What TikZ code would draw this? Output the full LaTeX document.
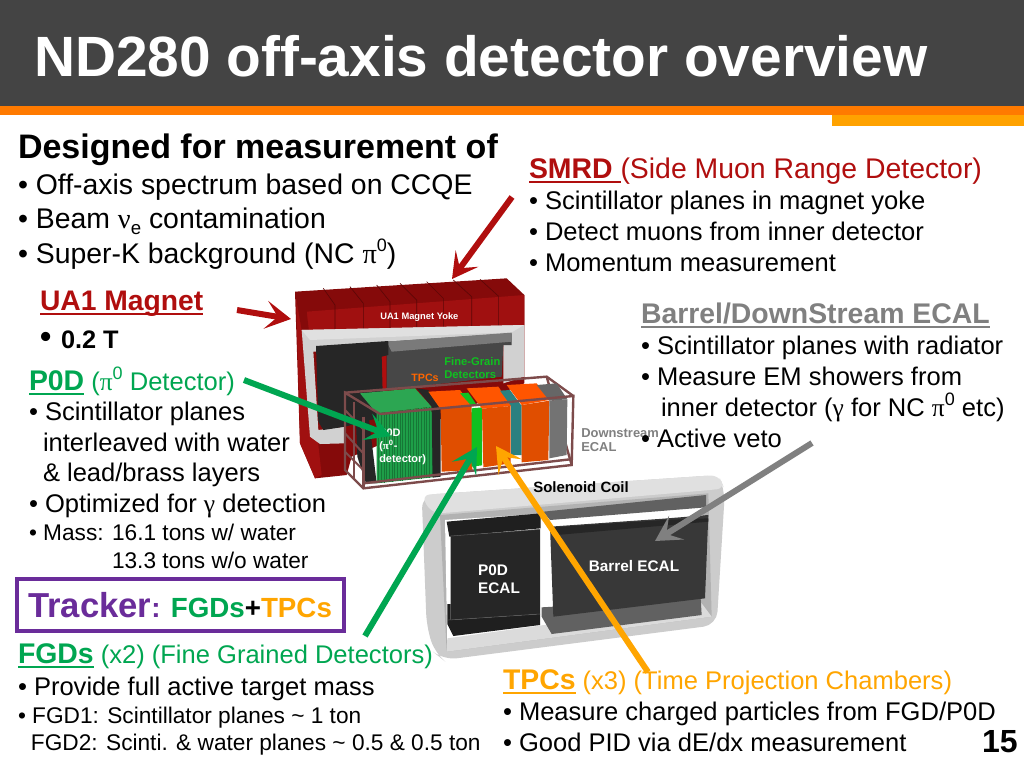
\documentclass[tikz,border=0pt]{standalone}
\usepackage{fontspec}
\usetikzlibrary{arrows.meta}
\setmainfont{Liberation Sans}
\newfontfamily\grk{Liberation Serif}
\newsavebox{\ulbox}
\newcommand{\uln}[1]{\sbox{\ulbox}{#1}\rlap{\rule[-0.17em]{\wd\ulbox}{0.07em}}\usebox{\ulbox}}
\newcommand{\gr}[1]{{\grk #1}}
\newcommand{\sbe}[1]{\raisebox{-0.22em}{\fontsize{14}{14}\selectfont #1}}
\newcommand{\spz}[1]{\raisebox{0.42em}{\fontsize{13.5}{14}\selectfont #1}}
\newcommand{\bld}[1]{{\bfseries\fontsize{21.3}{24}\selectfont\uln{#1}}}
\definecolor{hdr}{HTML}{444444}
\definecolor{hora}{HTML}{FF7A00}
\definecolor{hamb}{HTML}{FFA200}
\definecolor{ured}{HTML}{B00E0E}
\definecolor{sgreen}{HTML}{00A651}
\definecolor{sora}{HTML}{FFA500}
\definecolor{sgray}{HTML}{808080}
\definecolor{spur}{HTML}{6A2C9A}
\definecolor{yk}{HTML}{A01010}
\definecolor{ykd}{HTML}{850A0A}
\definecolor{bask}{HTML}{7D4B4B}
\definecolor{tpctop}{HTML}{FF5500}
\definecolor{tpcfront}{HTML}{E04E00}
\definecolor{p0dtop}{HTML}{2CA652}
\definecolor{p0dfront}{HTML}{1E9E48}
\definecolor{fgdgreen}{HTML}{10C020}
\definecolor{fgdteal}{HTML}{2A8080}
\tikzset{
 txt/.style={anchor=base west,inner sep=0pt,outer sep=0pt},
 big/.style={font=\fontsize{21.3}{24}\selectfont},
 mid/.style={font=\fontsize{19.15}{22}\selectfont},
 sml/.style={font=\fontsize{17}{20}\selectfont},
 arr/.style={line width=4.5pt,-{Stealth[length=19pt,width=21pt,inset=9pt]}},
 imglbl/.style={anchor=center,inner sep=0pt,align=left,font=\bfseries\fontsize{8.4}{9.8}\selectfont},
}
\begin{document}
\begin{tikzpicture}[x=0.75pt,y=-0.75pt]
\useasboundingbox (0,0) rectangle (1024,768);
\fill[white] (0,0) rectangle (1024,768);
% header
\fill[hdr] (0,0) rectangle (1024,106);
\fill[hora] (0,106) rectangle (1024,115);
\fill[hamb] (832,115) rectangle (1024,126);
\node[txt,text=white,font=\bfseries\fontsize{42.6}{46}\selectfont] (title) at (34,76) {ND280 off-axis detector overview};
% ---- magnet (zoom 1 coordinates)
\begin{scope}[shift={(280,270)},x=0.25pt,y=-0.25pt]
\fill[ykd] (45,65)--(680,25)--(733,75)--(733,340)--(215,560)--(200,615)--(105,625)--(60,520)--cycle;
\fill[yk] (80,125)--(733,75)--(733,165)--(85,205)--cycle;
\fill[yk] (75,130)--(90,210)--(110,480)--(125,615)--(105,625)--(60,520)--(48,70)--cycle;
\fill[ykd] (45,65)--(80,125)--(90,210)--(65,180)--cycle;
\foreach \a/\b/\c in {130/55/165,210/50/250,290/45/330,360/40/410,440/35/490,520/30/575,600/28/655}
  \draw[black!30!ykd,line width=0.5pt] (\a,\b)--(\c,{\b+50})--(\c,{\b+140});
\fill[white!82!black] (65,180)--(732,165)--(732,320)--(670,340)--(670,225)--(100,245)--(115,480)--(195,470)--(195,520)--(120,522)--(90,500)--cycle;
\fill[white!88!black] (65,180)--(732,165)--(695,187)--(90,210)--cycle;
\fill[black!72] (320,215)--(695,190)--(695,225)--(670,225)--(665,320)--(320,360)--cycle;
\fill[black!52] (320,215)--(695,188)--(695,215)--(335,245)--cycle;
\fill[ured] (305,255)--(318,255)--(318,360)--(305,375)--cycle;
\fill[black!85] (108,228)--(325,213)--(325,255)--(305,260)--(310,440)--(195,470)--(130,480)--(115,455)--cycle;
\node[font=\bfseries\fontsize{7}{9}\selectfont,text=white,inner sep=0pt] (yokelbl) at (418,142) {UA1 Magnet Yoke};
\node[font=\bfseries\fontsize{8}{9}\selectfont,text=orange!80!red,inner sep=0pt] (tpclbl) at (435,324) {TPCs};
\node[imglbl,text=fgdgreen] (fgdlbl) at (577,295) {Fine-Grain\\Detectors};
% basket rear
\draw[bask,line width=1.8pt] (195,368)--(800,320)--(880,378);
\draw[bask,line width=1.8pt] (800,320)--(875,585);
% contents
\fill[black!85] (225,378)--(265,430)--(290,640)--(258,640)--(232,560)--cycle;
\fill[p0dtop] (240,370)--(405,355)--(455,410)--(290,430)--cycle;
\fill[p0dfront] (290,430)--(455,410)--(458,622)--(290,640)--cycle;
\foreach \x in {296,304,...,456}
  \draw[p0dfront!75!black,line width=0.3pt] (\x,{430-(\x-290)*20/165})--(\x,{640-(\x-290)*18/168});
\fill[black!85] (410,355)--(445,360)--(482,410)--(482,620)--(458,623)--(455,410)--cycle;
\fill[tpctop] (445,365)--(540,360)--(575,405)--(480,415)--cycle;
\fill[tpcfront] (482,415)--(575,405)--(577,600)--(485,605)--cycle;
\fill[fgdgreen] (540,370)--(565,368)--(590,405)--(575,408)--cycle;
\fill[fgdgreen] (575,415)--(606,412)--(606,586)--(575,590)--cycle;
\fill[tpctop] (560,355)--(655,350)--(695,408)--(606,416)--cycle;
\fill[tpcfront] (606,416)--(692,408)--(692,580)--(610,592)--cycle;
\fill[fgdteal] (660,362)--(690,360)--(725,408)--(695,410)--cycle;
\fill[fgdteal] (693,408)--(725,405)--(725,555)--(693,555)--cycle;
\fill[tpctop] (680,345)--(770,340)--(808,390)--(725,405)--cycle;
\fill[tpcfront] (725,405)--(808,392)--(805,570)--(725,577)--cycle;
\fill[black!60] (770,345)--(830,340)--(862,388)--(808,392)--cycle;
\fill[black!55] (808,392)--(862,388)--(860,555)--(808,565)--cycle;
\node[imglbl,text=white,font=\bfseries\fontsize{8.2}{9.7}\selectfont] (p0dlbl) at (368,530) {P0D\\(\gr{π}\textsuperscript{0}-\\detector)};
% basket front
\draw[bask,line width=1.8pt] (300,432)--(880,378)--(875,585)--(250,655)--(195,600)--(195,368)--(300,432);
\draw[bask,line width=1.8pt] (250,440)--(250,655);
\draw[bask,line width=1.5pt] (195,420)--(250,478) (195,490)--(250,550) (195,545)--(250,600);
\draw[bask,line width=1.5pt] (222,395)--(222,625);
\draw[bask,line width=1.8pt] (250,640)--(870,568);
\end{scope}
% ---- solenoid (zoom 2 coordinates)
\begin{scope}[shift={(410,470)},x=0.25pt,y=-0.25pt]
\fill[white!80!black,rounded corners=10pt] (35,75)--(925,15)--(945,60)--(920,465)--(100,570)--(75,550)--(50,470)--cycle;
\fill[white!88!black,rounded corners=6pt] (35,75)--(925,15)--(945,55)--(900,60)--(90,130)--(60,125)--cycle;
\fill[white!70!black] (90,135)--(895,70)--(905,440)--(110,545)--cycle;
\fill[white] (105,150)--(880,100)--(870,425)--(112,530)--cycle;
\fill[white!86!black] (112,505)--(875,400)--(905,440)--(110,545)--cycle;
\fill[black!62] (400,125)--(888,75)--(888,112)--(420,150)--cycle;
\draw[white,line width=1pt] (425,165)--(840,122);
\fill[black!62] (395,412)--(872,385)--(875,435)--(425,492)--(395,440)--cycle;
\fill[black!88] (110,155)--(392,130)--(392,175)--(118,200)--cycle;
\fill[black!85] (122,198)--(390,178)--(390,432)--(122,450)--cycle;
\fill[black!88] (112,402)--(122,402)--(122,450)--(390,432)--(390,465)--(130,498)--(112,462)--cycle;
\draw[black!65,line width=0.4pt] (122,198)--(390,178) (115,450)--(390,432);
\fill[black!78] (420,170)--(760,146)--(895,135)--(885,385)--(430,440)--cycle;
\fill[black!85] (430,172)--(762,150)--(895,145)--(895,155)--(440,195)--cycle;
\node[font=\bfseries\fontsize{11.5}{13}\selectfont,text=white,inner sep=0pt] (barrellbl) at (672,287) {Barrel ECAL};
\node[align=left,font=\bfseries\fontsize{11.5}{13.5}\selectfont,text=white,inner sep=0pt] (pecallbl) at (267,328) {P0D\\ECAL};
\node[font=\bfseries\fontsize{11.2}{13}\selectfont,inner sep=0pt] (coillbl) at (513,50) {Solenoid Coil};
\end{scope}
\node[imglbl,anchor=west,text=black!50,font=\bfseries\fontsize{9.7}{10.8}\selectfont] (dslbl) at (581,440) {Downstream\\ECAL};
% ---- texts
\node[txt,font=\bfseries\fontsize{25.5}{28}\selectfont] (t1) at (18,158) {Designed for measurement of};
\node[txt,big] (t2) at (18,194) {• Off-axis spectrum based on CCQE};
\node[txt,big] (t3) at (18,228) {• Beam \gr{ν}\sbe{e} contamination};
\node[txt,big] (t4) at (18,263) {• Super-K background (NC \gr{π}\spz{0})};
\node[txt,text=ured,font=\bfseries\fontsize{21.2}{24}\selectfont] (ua) at (40,310) {\uln{UA1 Magnet}};
\node[txt,font=\bfseries\fontsize{24}{26}\selectfont] (ub) at (40,347) {•};
\node[txt,font=\bfseries\fontsize{19}{22}\selectfont] (uc) at (61,348) {0.2 T};
\node[txt,mid,text=sgreen] (p1) at (29,390) {\bld{P0D} (\gr{π}\spz{0} Detector)};
\node[txt,mid] (p2) at (29,420) {• Scintillator planes};
\node[txt,mid] (p3) at (43,451) {interleaved with water};
\node[txt,mid] (p4) at (43,481) {\& lead/brass layers};
\node[txt,mid] (p5) at (29,512) {• Optimized for \gr{γ} detection};
\node[txt,sml] (p6) at (29,540) {• Mass: 16.1 tons w/ water};
\node[txt,sml] (p7) at (112,568) {13.3 tons w/o water};
\node[draw=spur,line width=2.7pt,minimum width=245pt,minimum height=39pt,inner sep=0pt] (trkbox) at (180.5,605) {};
\node[txt,font=\bfseries\fontsize{26}{28}\selectfont,text=spur] (trk) at (28,617) {Tracker\fontsize{20.8}{22}\selectfont: \textcolor{sgreen}{FGDs}\textcolor{black}{+}\textcolor{sora}{TPCs}};
\node[txt,mid,text=sgreen] (f1) at (18,663) {\bld{FGDs} (x2) (Fine Grained Detectors)};
\node[txt,mid] (f2) at (18,695) {• Provide full active target mass};
\node[txt,sml] (f3) at (18,723) {• FGD1: Scintillator planes \textasciitilde{} 1 ton};
\node[txt,sml] (f4) at (31,750) {FGD2: Scinti. \& water planes \textasciitilde{} 0.5 \& 0.5 ton};
\node[txt,big,text=ured] (s1) at (529,178) {\bld{SMRD }(Side Muon Range Detector)};
\node[txt,mid] (s2) at (529,209) {• Scintillator planes in magnet yoke};
\node[txt,mid] (s3) at (529,240) {• Detect muons from inner detector};
\node[txt,mid] (s4) at (529,271) {• Momentum measurement};
\node[txt,text=sgray,font=\bfseries\fontsize{21.3}{24}\selectfont] (b1) at (641,323) {\uln{Barrel/DownStream ECAL}};
\node[txt,mid] (b2) at (641,354) {• Scintillator planes with radiator};
\node[txt,mid] (b3) at (641,385) {• Measure EM showers from};
\node[txt,mid] (b4) at (661,416) {inner detector (\gr{γ} for NC \gr{π}\spz{0} etc)};
\node[txt,mid] (b5) at (641,447) {• Active veto};
\node[txt,mid,text=sora] (o1) at (503,689) {\bld{TPCs} (x3) (Time Projection Chambers)};
\node[txt,mid] (o2) at (503,720) {• Measure charged particles from FGD/P0D};
\node[txt,mid] (o3) at (503,751) {• Good PID via dE/dx measurement};
\node[txt,font=\bfseries\fontsize{24}{26}\selectfont] (num) at (982,752) {15};
% ---- connectors
\coordinate (rA) at (237,310); \coordinate (rB) at (291,319);
\coordinate (rC) at (512,197); \coordinate (rD) at (452,279);
\coordinate (gA) at (244,380); \coordinate (gB) at (391,436);
\coordinate (gC) at (365,636); \coordinate (gD) at (477,447);
\coordinate (oA) at (648,672); \coordinate (oB) at (496,446);
\coordinate (kA) at (812,443); \coordinate (kB) at (655,541);
\draw[arr,ured] (rA)--(rB);
\draw[arr,ured] (rC)--(rD);
\draw[arr,sgreen] (gA)--(gB);
\draw[arr,sgreen] (gC)--(gD);
\draw[arr,sora] (oA)--(oB);
\draw[arr,sgray] (kA)--(kB);
\end{tikzpicture}
\end{document}
